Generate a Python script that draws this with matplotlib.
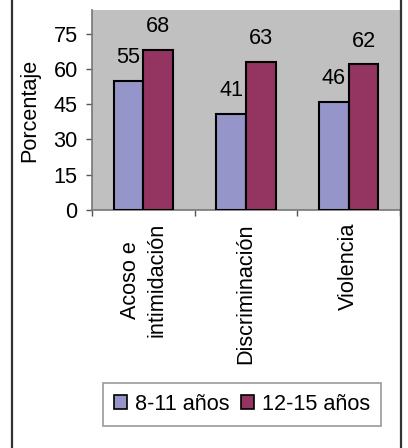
import matplotlib
matplotlib.use("Agg")
import matplotlib.pyplot as plt
from matplotlib.lines import Line2D
from matplotlib.patches import Patch
import numpy as np

plt.rcParams['font.family'] = ['Liberation Sans', 'DejaVu Sans']

categories = ["Acoso e\nintimidación", "Discriminación", "Violencia"]
series_names = ["8-11 años", "12-15 años"]
ninos = [55, 41, 46]
adolescentes = [68, 63, 62]
yticks = [0, 15, 30, 45, 60, 75]

blue = "#9595C9"
red = "#943461"
gray_bg = "#C0C0C0"
fs = 15.6

W, H = 408, 448
fig = plt.figure(figsize=(W / 100, H / 100), dpi=100)

# outer chart frame (only sides are visible in the crop)
for xp in (12, 401):
    fig.add_artist(Line2D([xp / W, xp / W], [0, 1], color="#333333", lw=1.6,
                          transform=fig.transFigure))

ax = fig.add_axes([92 / W, 1 - 210 / H, 308 / W, 200 / H])
ax.set_facecolor(gray_bg)

x = np.arange(len(categories))
bw = 0.29
b1 = ax.bar(x - bw / 2, ninos, bw, color=blue, edgecolor="black", linewidth=1.5, zorder=3)
b2 = ax.bar(x + bw / 2, adolescentes, bw, color=red, edgecolor="black", linewidth=1.5, zorder=3)

for bars, vals in ((b1, ninos), (b2, adolescentes)):
    for r, v in zip(bars, vals):
        ax.annotate(str(v), (r.get_x() + r.get_width() / 2, v), xytext=(0, 9),
                    textcoords="offset points", ha="center", va="bottom", fontsize=fs)

ax.set_xlim(-0.5, len(categories) - 0.5)
ax.set_ylim(0, 85)
ax.set_yticks(yticks)
ax.tick_params(axis="y", labelsize=fs, length=4.3, width=1, color="#555555", pad=6, direction="out")

# category boundaries as ticks, labels in the middle
ax.set_xticks(np.arange(len(categories) + 1) - 0.5)
ax.set_xticklabels([])
ax.tick_params(axis="x", length=4, width=1, color="#555555", direction="out")
for i, c in enumerate(categories):
    ax.text(i, -0.065, c, transform=ax.get_xaxis_transform(), rotation=90,
            ha="center", va="top", multialignment="center", fontsize=fs,
            linespacing=1.35)

for s in ("top", "right"):
    ax.spines[s].set_visible(False)
for s in ("left", "bottom"):
    ax.spines[s].set_color("#777777")
    ax.spines[s].set_linewidth(1.2)

ax.set_ylabel("Porcentaje", fontsize=fs, va="center")
ax.yaxis.set_label_coords((30 - 92) / 308, 0.5)

handles = [Patch(facecolor=blue, edgecolor="black", linewidth=1.2),
           Patch(facecolor=red, edgecolor="black", linewidth=1.2)]
leg = fig.legend(handles, series_names, loc="center", bbox_to_anchor=(242 / W, 1 - 404.5 / H),
                 ncol=2, fontsize=fs, frameon=True, fancybox=False, handlelength=0.6,
                 handleheight=0.6, handletextpad=0.4, columnspacing=0.5,
                 borderpad=0.5, borderaxespad=0)
leg.get_frame().set_edgecolor("#808080")
leg.get_frame().set_linewidth(1.2)

fig.savefig("out.png", dpi=100)
